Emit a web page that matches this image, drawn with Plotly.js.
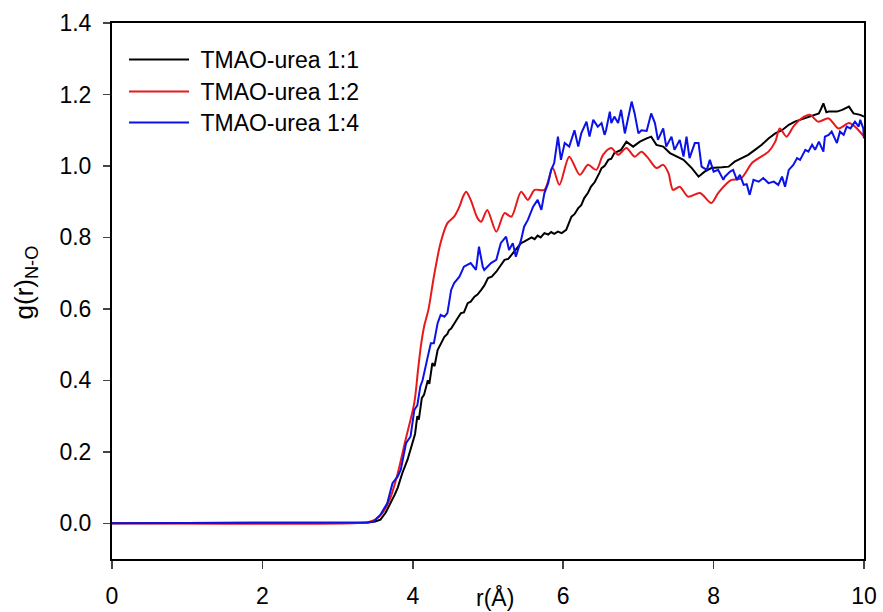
<!DOCTYPE html>
<html>
<head>
<meta charset="utf-8">
<script src="https://cdn.plot.ly/plotly-3.0.1.min.js"></script>
<style>html,body{margin:0;padding:0;background:#fff;}#chart{width:883px;height:612px;}</style>
</head>
<body>
<div id="chart"></div>
<script>
// Series names
const seriesNames = ["TMAO-urea 1:1", "TMAO-urea 1:2", "TMAO-urea 1:4"];
const seriesColors = ["#000000", "#e8191b", "#0a12e6"];

// TMAO-urea 1:1 (black)
const r11 = [0,3.2,3.4,3.5,3.57,3.64,3.71,3.76,3.8,3.86,3.93,3.99,4.03,4.06,4.08,4.12,4.15,4.2,4.22,4.26,4.29,4.33,4.37,4.42,4.46,4.48,4.51,4.55,4.6,4.64,4.68,4.73,4.77,4.82,4.86,4.91,4.95,5.0,5.05,5.11,5.16,5.22,5.27,5.33,5.38,5.44,5.48,5.53,5.58,5.62,5.66,5.7,5.75,5.8,5.84,5.88,5.93,5.98,6.04,6.11,6.15,6.2,6.24,6.28,6.33,6.37,6.42,6.48,6.51,6.55,6.6,6.64,6.68,6.77,6.84,6.93,7.02,7.11,7.17,7.24,7.33,7.42,7.51,7.6,7.71,7.8,7.88,7.97,8.11,8.2,8.28,8.37,8.46,8.55,8.64,8.73,8.82,8.91,9.0,9.08,9.2,9.28,9.4,9.43,9.46,9.5,9.53,9.64,9.71,9.8,9.86,9.95,10];
const g11 = [0,0,0.002,0.005,0.01,0.03,0.057,0.08,0.10,0.14,0.178,0.225,0.25,0.30,0.29,0.35,0.36,0.40,0.39,0.448,0.44,0.485,0.50,0.522,0.53,0.54,0.545,0.56,0.575,0.588,0.59,0.616,0.62,0.634,0.64,0.653,0.665,0.686,0.69,0.704,0.72,0.737,0.74,0.756,0.77,0.784,0.788,0.793,0.80,0.795,0.805,0.80,0.812,0.808,0.815,0.81,0.816,0.812,0.821,0.858,0.865,0.882,0.89,0.91,0.925,0.942,0.955,0.98,0.994,1.0,1.017,1.02,1.036,1.045,1.068,1.054,1.068,1.077,1.082,1.059,1.054,1.036,1.026,1.017,0.994,0.97,0.984,0.994,0.996,0.998,1.012,1.022,1.031,1.045,1.059,1.077,1.091,1.10,1.115,1.124,1.133,1.138,1.147,1.16,1.175,1.15,1.152,1.152,1.157,1.166,1.147,1.143,1.138];

// TMAO-urea 1:2 (red)
const r12 = [0,3.2,3.4,3.5,3.6,3.7,3.8,3.9,4.02,4.07,4.11,4.15,4.21,4.28,4.37,4.46,4.55,4.62,4.67,4.71,4.77,4.86,4.91,4.99,5.11,5.22,5.31,5.44,5.53,5.62,5.75,5.86,5.95,6.08,6.22,6.33,6.44,6.53,6.64,6.73,6.84,6.95,7.04,7.13,7.24,7.33,7.40,7.46,7.55,7.66,7.82,7.97,8.06,8.2,8.24,8.37,8.51,8.6,8.73,8.82,8.88,8.97,9.06,9.17,9.28,9.39,9.53,9.66,9.8,9.88,10];
const g12 = [0,0,0.003,0.01,0.03,0.07,0.14,0.23,0.337,0.43,0.50,0.55,0.60,0.69,0.785,0.84,0.858,0.886,0.915,0.928,0.905,0.854,0.844,0.877,0.816,0.868,0.858,0.928,0.905,0.933,0.933,0.994,0.947,1.026,0.975,1.003,0.989,1.031,1.05,1.031,1.05,1.026,1.04,1.022,0.994,1.003,0.98,0.933,0.942,0.914,0.924,0.896,0.924,0.956,0.961,0.966,1.008,1.022,1.04,1.068,1.105,1.082,1.11,1.133,1.143,1.124,1.133,1.105,1.12,1.11,1.082];

// TMAO-urea 1:4 (blue)
const r14 = [0,3.2,3.4,3.48,3.57,3.66,3.73,3.8,3.84,3.91,3.97,4.02,4.06,4.1,4.13,4.2,4.24,4.28,4.33,4.37,4.42,4.46,4.51,4.55,4.62,4.68,4.77,4.84,4.88,4.93,4.95,5.04,5.11,5.17,5.24,5.28,5.33,5.37,5.44,5.48,5.53,5.6,5.66,5.71,5.75,5.8,5.84,5.88,5.93,5.97,6.02,6.08,6.15,6.2,6.24,6.31,6.35,6.4,6.46,6.51,6.55,6.57,6.62,6.64,6.68,6.73,6.77,6.82,6.86,6.91,6.95,7.0,7.04,7.11,7.17,7.22,7.26,7.33,7.37,7.44,7.48,7.55,7.6,7.64,7.68,7.75,7.8,7.84,7.91,7.95,8.0,8.06,8.13,8.15,8.2,8.22,8.26,8.31,8.35,8.4,8.44,8.48,8.53,8.6,8.66,8.73,8.8,8.86,8.91,8.95,9.0,9.06,9.11,9.15,9.22,9.26,9.31,9.35,9.4,9.46,9.48,9.53,9.57,9.64,9.68,9.73,9.77,9.82,9.88,9.93,9.95,9.99,10];
const g14 = [0,0,0.002,0.005,0.024,0.056,0.112,0.131,0.15,0.224,0.243,0.317,0.33,0.383,0.40,0.467,0.504,0.504,0.56,0.583,0.578,0.588,0.653,0.672,0.69,0.718,0.728,0.709,0.774,0.718,0.709,0.728,0.737,0.784,0.802,0.765,0.784,0.746,0.793,0.83,0.849,0.886,0.905,0.877,0.924,0.952,0.989,1.008,1.082,1.017,1.064,1.054,1.10,1.054,1.091,1.124,1.082,1.129,1.11,1.12,1.087,1.10,1.152,1.12,1.138,1.12,1.157,1.091,1.129,1.18,1.147,1.091,1.10,1.098,1.147,1.12,1.073,1.105,1.054,1.082,1.045,1.073,1.026,1.082,1.022,1.064,1.064,0.998,0.989,1.017,0.984,0.989,0.961,0.97,0.98,0.984,0.989,0.961,0.975,0.947,0.949,0.919,0.961,0.956,0.966,0.952,0.956,0.947,0.97,0.942,0.989,1.003,1.022,1.017,1.045,1.04,1.059,1.045,1.068,1.04,1.082,1.087,1.096,1.064,1.096,1.087,1.11,1.105,1.124,1.11,1.129,1.105,1.077];

const xTicks = [0,2,4,6,8,10];
const yTicks = [0.0,0.2,0.4,0.6,0.8,1.0,1.2,1.4];

const FONT = "Liberation Sans, Arial, Helvetica, sans-serif";
const xs = [r11, r12, r14], ys = [g11, g12, g14];
const legendIds = ["legend", "legend2", "legend3"];
const traces = xs.map((x, i) => ({
  x: x, y: ys[i], type: "scatter", mode: "lines",
  name: "\u00a0" + seriesNames[i], legend: legendIds[i],
  line: {color: seriesColors[i], width: 2, shape: i === 1 ? "spline" : "linear", smoothing: 0.8}
}));

function legendAt(yPaper) {
  return {x: 0.016, y: yPaper, xanchor: "left", yanchor: "top", bgcolor: "rgba(0,0,0,0)",
          font: {family: FONT, size: 23, color: "#000"}, itemwidth: 60};
}

const layout = {
  width: 883, height: 612,
  margin: {l: 112, r: 19, t: 23, b: 53, pad: 0},
  paper_bgcolor: "#fff", plot_bgcolor: "#fff",
  font: {family: FONT, size: 23, color: "#000"},
  showlegend: true,
  legend: legendAt(0.972),
  legend2: legendAt(0.9123),
  legend3: legendAt(0.8545),
  xaxis: {range: [0, 10], tickvals: xTicks, ticktext: xTicks.map(String), ticks: "outside", ticklen: 8, tickwidth: 1.5,
          ticklabelstandoff: 7,
          showline: true, mirror: true, linewidth: 2, linecolor: "#000", showgrid: false, zeroline: false,
          tickfont: {family: FONT, size: 23, color: "#000"}},
  yaxis: {range: [-0.1, 1.4], tickvals: yTicks, ticktext: yTicks.map(v => v.toFixed(1)), ticks: "outside", ticklen: 7, tickwidth: 1.5,
          ticklabelstandoff: 7,
          showline: true, mirror: true, linewidth: 2, linecolor: "#000", showgrid: false, zeroline: false,
          tickfont: {family: FONT, size: 23, color: "#000"}},
  annotations: [
    {text: "r(Å)", xref: "x", x: 5.09, yref: "paper", y: -0.071, xanchor: "center", yanchor: "middle",
     showarrow: false, font: {family: FONT, size: 23, color: "#000"}},
    {text: "g(r)<sub>N-O</sub>", xref: "paper", x: -0.115, yref: "paper", y: 0.515, xanchor: "center", yanchor: "middle",
     textangle: -90, showarrow: false, font: {family: FONT, size: 26, color: "#000"}}
  ]
};

Plotly.newPlot("chart", traces, layout, {staticPlot: true, displayModeBar: false});
</script>
</body>
</html>
